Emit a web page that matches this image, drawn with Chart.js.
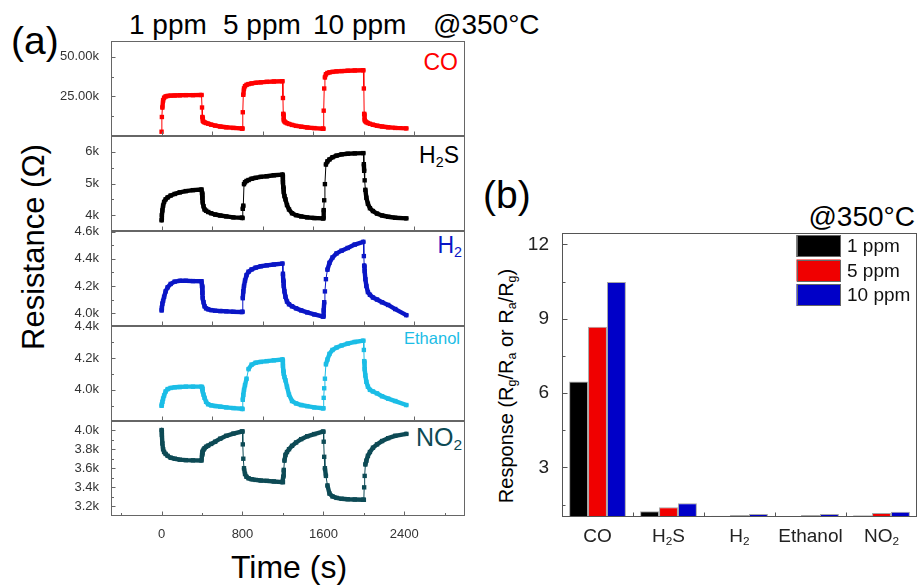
<!DOCTYPE html>
<html>
<head>
<meta charset="utf-8">
<script src="https://cdn.jsdelivr.net/npm/chart.js@4.4.1/dist/chart.umd.min.js"></script>
<style>
  html, body { margin: 0; padding: 0; background: #fff; }
  #page { position: relative; width: 921px; height: 587px; overflow: hidden;
          font-family: 'Liberation Sans', Arial, sans-serif; color: #000; }
  .box { position: absolute; }
  .txt { position: absolute; white-space: nowrap; line-height: 1; }
  .rot { transform: translate(-50%, -50%) rotate(-90deg); }
  sub { font-size: 0.62em; vertical-align: -0.28em; line-height: 0; }
</style>
</head>
<body>
<div id="page">
  <div class="txt" style="left:11px; top:20.5px; font-size:39px;">(a)</div>
  <div class="txt" style="left:129px; top:11.3px; font-size:28px;">1 ppm</div>
  <div class="txt" style="left:223px; top:11.3px; font-size:28px;">5 ppm</div>
  <div class="txt" style="left:313px; top:11.3px; font-size:28px;">10 ppm</div>
  <div class="txt" style="left:433px; top:11.3px; font-size:28px;">@350°C</div>

  <div class="txt" style="right:463px; top:51px; font-size:23px; color:#ff0000;">CO</div>
  <div class="txt" style="right:462px; top:144px; font-size:23px; color:#000;">H<sub>2</sub>S</div>
  <div class="txt" style="right:459px; top:233.5px; font-size:23px; color:#0a16c6;">H<sub>2</sub></div>
  <div class="txt" style="right:461px; top:329.5px; font-size:16.5px; color:#1bbde6;">Ethanol</div>
  <div class="txt" style="right:459px; top:424.8px; font-size:25px; color:#0d4a55;">NO<sub>2</sub></div>

  <div class="txt rot" style="left:33px; top:247px; font-size:31px;">Resistance (Ω)</div>
  <div class="txt" style="left:289px; top:551px; font-size:32px; transform:translateX(-50%);">Time (s)</div>

  <div class="txt" style="left:483px; top:175.4px; font-size:39px;">(b)</div>
  <div class="txt" style="right:6px; top:203px; font-size:28px;">@350°C</div>
  <div class="txt rot" style="left:506px; top:386px; font-size:20px;">Response (R<sub>g</sub>/R<sub>a</sub> or R<sub>a</sub>/R<sub>g</sub>)</div>
</div>

<script>
// ---- transient resistance data (time in s, resistance in kΩ) ----
const timeS = [
  0, 3, 8, 15, 25, 40, 60, 90, 130, 180, 240, 310, 395,
  400, 403, 408, 415, 425, 440, 460, 490, 530, 580, 640, 710, 795,
  800, 803, 808, 815, 825, 840, 860, 890, 930, 980, 1040, 1110, 1195,
  1200, 1203, 1208, 1215, 1225, 1240, 1260, 1290, 1330, 1380, 1440, 1510, 1595,
  1600, 1603, 1608, 1615, 1625, 1640, 1660, 1690, 1730, 1780, 1840, 1910, 1995,
  2000, 2003, 2008, 2015, 2025, 2040, 2060, 2090, 2130, 2180, 2240, 2310, 2420
];

const coK = [
  2.7, 12, 18, 22.5, 24.2, 25, 25.3, 25.5, 25.6, 25.7, 25.8, 25.8, 25.9,
  18, 12, 9.6, 9.0, 8.6, 8.2, 7.8, 7.2, 6.6, 6.0, 5.5, 5.1, 4.7,
  4.7, 15, 26, 30, 31.5, 32.3, 32.8, 33.2, 33.6, 33.9, 34.2, 34.4, 34.6,
  24, 14, 10, 9.2, 8.6, 8.1, 7.6, 7.0, 6.4, 5.9, 5.4, 5.0, 4.6,
  4.6, 16, 30, 37, 39, 39.8, 40.2, 40.5, 40.8, 41, 41.2, 41.4, 41.5,
  30, 14, 10, 9.3, 8.7, 8.2, 7.7, 7.1, 6.5, 6.0, 5.5, 5.1, 4.8
];

const h2sK = [
  3.84, 4.0, 4.15, 4.3, 4.42, 4.5, 4.56, 4.62, 4.67, 4.72, 4.76, 4.79, 4.81,
  4.7, 4.55, 4.4, 4.28, 4.18, 4.14, 4.1, 4.06, 4.02, 3.99, 3.96, 3.93, 3.92,
  3.91, 4.2, 4.3, 4.98, 5.04, 5.08, 5.11, 5.15, 5.18, 5.21, 5.23, 5.26, 5.28,
  5.04, 4.88, 4.73, 4.6, 4.5, 4.32, 4.18, 4.06, 4.0, 3.96, 3.93, 3.91, 3.9,
  3.9, 4.16, 4.47, 4.98, 5.6, 5.7, 5.76, 5.83, 5.88, 5.92, 5.94, 5.95, 5.96,
  5.61, 5.4, 5.1, 4.8, 4.55, 4.36, 4.22, 4.13, 4.05, 3.99, 3.95, 3.92, 3.9
];

const h2K = [
  4.02, 4.04, 4.07, 4.09, 4.12, 4.16, 4.19, 4.215, 4.232, 4.238, 4.238, 4.236, 4.235,
  4.2, 4.15, 4.11, 4.08, 4.05, 4.035, 4.028, 4.022, 4.018, 4.015, 4.013, 4.01, 4.008,
  4.01, 4.11, 4.16, 4.2, 4.24, 4.28, 4.305, 4.322, 4.335, 4.345, 4.352, 4.358, 4.365,
  4.29, 4.24, 4.2, 4.16, 4.12, 4.085, 4.065, 4.05, 4.035, 4.02, 4.005, 3.99, 3.975,
  3.975, 4.02, 4.08, 4.16, 4.25, 4.32, 4.37, 4.41, 4.44, 4.46, 4.48, 4.505, 4.525,
  4.42, 4.35, 4.31, 4.25, 4.2, 4.155, 4.135, 4.115, 4.1, 4.08, 4.06, 4.03, 3.985
];

const ethanolK = [
  3.9, 3.91, 3.925, 3.945, 3.965, 3.99, 4.005, 4.012, 4.016, 4.018, 4.02, 4.02, 4.02,
  4.015, 4.005, 3.99, 3.97, 3.95, 3.925, 3.91, 3.903, 3.899, 3.895, 3.89, 3.886, 3.882,
  3.88, 3.938, 3.969, 4.0, 4.03, 4.07, 4.13, 4.158, 4.17, 4.175, 4.18, 4.185, 4.19,
  4.15, 4.12, 4.1, 4.08, 4.06, 4.02, 3.97, 3.93, 3.915, 3.905, 3.898, 3.89, 3.885,
  3.885, 3.95, 4.01, 4.07, 4.16, 4.19, 4.225, 4.25, 4.265, 4.278, 4.29, 4.3, 4.308,
  4.25, 4.18, 4.13, 4.09, 4.05, 4.02, 4.0, 3.99, 3.978, 3.96, 3.945, 3.93, 3.905
];

const no2K = [
  4.0, 3.95, 3.86, 3.8, 3.77, 3.75, 3.73, 3.71, 3.7, 3.69, 3.685, 3.683, 3.682,
  3.74, 3.765, 3.78, 3.795, 3.81, 3.825, 3.837, 3.855, 3.878, 3.91, 3.94, 3.963, 3.985,
  3.985, 3.85, 3.7, 3.6, 3.54, 3.51, 3.495, 3.485, 3.478, 3.472, 3.468, 3.462, 3.455,
  3.455, 3.513, 3.583, 3.68, 3.74, 3.77, 3.8, 3.835, 3.87, 3.905, 3.935, 3.958, 3.983,
  3.983, 3.878, 3.72, 3.6, 3.52, 3.42, 3.335, 3.305, 3.29, 3.28, 3.276, 3.273, 3.27,
  3.27, 3.4, 3.52, 3.64, 3.68, 3.73, 3.77, 3.815, 3.85, 3.885, 3.915, 3.94, 3.96
];

// axis ticks of the transient panels
const timeTickLabels = [0, 800, 1600, 2400];
const timeMinorTicks = [-400, 400, 1200, 2000, 2800];
const panelTimeTicks = [0, 500, 1000, 1500, 2000, 2500];
const coTicks = [25, 50];
const h2sTicks = [4, 5, 6];
const h2Ticks = [4.0, 4.2, 4.4, 4.6];
const ethanolTicks = [4.0, 4.2, 4.4];
const no2Ticks = [3.2, 3.4, 3.6, 3.8, 4.0];

// ---- response bar data ----
const gasLabels = ['CO', 'H₂S', 'H₂', 'Ethanol', 'NO₂'];
const concLabels = ['1 ppm', '5 ppm', '10 ppm'];
const resp1ppm = [6.47, 1.23, 1.05, 1.0, 1.07];
const resp5ppm = [8.68, 1.39, 1.08, 1.08, 1.16];
const resp10ppm = [10.48, 1.55, 1.12, 1.12, 1.21];
const responseTicks = [3, 6, 9, 12];
const responseMinor = [1.5, 4.5, 7.5, 10.5];

Chart.defaults.font.family = "'Liberation Sans', Arial, sans-serif";

const page = document.getElementById('page');
function addCanvas(left, top, w, h) {
  const d = document.createElement('div');
  d.className = 'box';
  d.style.left = left + 'px'; d.style.top = top + 'px';
  d.style.width = w + 'px'; d.style.height = h + 'px';
  const c = document.createElement('canvas');
  c.width = w; c.height = h;
  c.style.width = w + 'px'; c.style.height = h + 'px';
  d.appendChild(c);
  page.appendChild(d);
  return c;
}

// frame with inward ticks around each transient panel
const panelFrame = {
  id: 'panelFrame',
  afterDraw(chart, args, o) {
    const { ctx, chartArea: a } = chart;
    const xs = chart.scales.x, ys = chart.scales.y;
    const L = Math.round(a.left) + 0.5, R = Math.round(a.right) - 0.5;
    const T = Math.round(a.top) + 0.5, B = Math.round(a.bottom) - 0.5;
    ctx.save();
    ctx.strokeStyle = o.color; ctx.lineWidth = 1;
    ctx.strokeRect(L, T, R - L, B - T);
    ctx.beginPath();
    ys.ticks.forEach(t => { const y = Math.round(ys.getPixelForValue(t.value)) + 0.5; ctx.moveTo(L, y); ctx.lineTo(L + 4, y); });
    o.yMinor.forEach(v => { const y = Math.round(ys.getPixelForValue(v)) + 0.5; ctx.moveTo(L, y); ctx.lineTo(L + 2.5, y); });
    o.xMajor.forEach(v => { const x = Math.round(xs.getPixelForValue(v)) + 0.5; ctx.moveTo(x, B); ctx.lineTo(x, B - 4); });
    o.xMinor.forEach(v => { const x = Math.round(xs.getPixelForValue(v)) + 0.5; ctx.moveTo(x, B); ctx.lineTo(x, B - 2.5); });
    ctx.stroke();
    ctx.restore();
  }
};

const PAD = 12, PANEL_H = 95;
const panels = [
  { values: coK,      color: '#ff0000', top: 41,  min: 0,     max: 60,    ticks: coTicks,      minor: [12.5, 37.5],          dec: 2 },
  { values: h2sK,     color: '#000000', top: 136, min: 3.5,   max: 6.5,   ticks: h2sTicks,     minor: [4.5, 5.5],            dec: 0 },
  { values: h2K,      color: '#0a16c6', top: 231, min: 3.905, max: 4.605, ticks: h2Ticks,      minor: [4.1, 4.3, 4.5],       dec: 1 },
  { values: ethanolK, color: '#1bbde6', top: 326, min: 3.805, max: 4.4,   ticks: ethanolTicks, minor: [3.9, 4.1, 4.3],       dec: 1 },
  { values: no2K,     color: '#0d4a55', top: 421, min: 3.1,   max: 4.095, ticks: no2Ticks,     minor: [3.3, 3.5, 3.7, 3.9],  dec: 1, bottom: true }
];

panels.forEach(p => {
  const h = p.bottom ? PANEL_H + PAD + 25 : PANEL_H + 2 * PAD;
  const cv = addCanvas(0, p.top - PAD, 470, h);
  new Chart(cv, {
    type: 'line',
    data: {
      datasets: [{
        data: timeS.map((t, i) => ({ x: t, y: p.values[i] })),
        borderColor: p.color,
        backgroundColor: p.color,
        pointBackgroundColor: p.color,
        pointBorderWidth: 0,
        pointStyle: 'rect',
        pointRadius: 3.1,
        borderWidth: 4.4,
        borderJoinStyle: 'round',
        borderCapStyle: 'round',
        segment: { borderWidth: c => Math.abs(c.p1.y - c.p0.y) > 9 ? 1 : 4.4 },
        clip: 6
      }]
    },
    options: {
      responsive: false, animation: false, events: [],
      layout: { padding: { top: PAD, bottom: p.bottom ? 0 : PAD, left: 0, right: 5 } },
      plugins: {
        legend: { display: false }, tooltip: { enabled: false },
        panelFrame: {
          color: '#666',
          yMinor: p.minor,
          xMajor: p.bottom ? timeTickLabels : panelTimeTicks,
          xMinor: p.bottom ? timeMinorTicks : []
        }
      },
      scales: {
        x: {
          type: 'linear', min: -500, max: 3000, display: !!p.bottom,
          grid: { display: false }, border: { display: false },
          afterBuildTicks: s => { s.ticks = timeTickLabels.map(v => ({ value: v })); },
          ticks: { font: { size: 13 }, color: '#333', padding: 3, maxRotation: 0, autoSkip: false,
                   callback: v => String(v) },
          afterFit: s => { s.height = p.bottom ? 25 : 0; }
        },
        y: {
          type: 'linear', min: p.min, max: p.max,
          grid: { display: false }, border: { display: false },
          afterBuildTicks: s => { s.ticks = p.ticks.map(v => ({ value: v })); },
          ticks: { font: { size: 13 }, color: '#333', padding: 4, autoSkip: false,
                   callback: v => Number(v).toFixed(p.dec) + 'k' },
          afterFit: s => { s.width = 111; }
        }
      }
    },
    plugins: [panelFrame]
  });
});

// ---- bar chart decorations: frame, inward ticks, subscript labels, legend ----
function drawSubText(ctx, text, cx, baseline, size) {
  const runs = [];
  for (const ch of text) {
    const sub = ch === '₂';
    const c = sub ? '2' : ch;
    if (runs.length && runs[runs.length - 1].sub === sub) runs[runs.length - 1].t += c;
    else runs.push({ t: c, sub });
  }
  const font = s => `${s}px 'Liberation Sans', Arial, sans-serif`;
  let w = 0;
  runs.forEach(r => { ctx.font = font(r.sub ? size * 0.62 : size); r.w = ctx.measureText(r.t).width; w += r.w; });
  let x = cx - w / 2;
  ctx.textAlign = 'left'; ctx.textBaseline = 'alphabetic';
  runs.forEach(r => {
    ctx.font = font(r.sub ? size * 0.62 : size);
    ctx.fillText(r.t, x, baseline + (r.sub ? size * 0.2 : 0));
    x += r.w;
  });
}

const barDeco = {
  id: 'barDeco',
  afterDraw(chart, args, o) {
    const { ctx, chartArea: a } = chart;
    const xs = chart.scales.x, ys = chart.scales.y;
    const L = Math.round(a.left) + 0.5, R = Math.round(a.right) - 0.5;
    const T = Math.round(a.top) + 0.5, B = Math.round(a.bottom) - 0.5;
    ctx.save();
    ctx.strokeStyle = '#555'; ctx.lineWidth = 1;
    ctx.strokeRect(L, T, R - L, B - T);
    ctx.beginPath();
    ys.ticks.forEach(t => { const y = Math.round(ys.getPixelForValue(t.value)) + 0.5; ctx.moveTo(L, y); ctx.lineTo(L + 5, y); });
    o.yMinor.forEach(v => { const y = Math.round(ys.getPixelForValue(v)) + 0.5; ctx.moveTo(L, y); ctx.lineTo(L + 3, y); });
    for (let i = 0; i < chart.data.labels.length - 1; i++) {
      const x = Math.round((xs.getPixelForValue(i) + xs.getPixelForValue(i + 1)) / 2) + 0.5;
      ctx.moveTo(x, B); ctx.lineTo(x, B - 4);
    }
    ctx.stroke();

    ctx.fillStyle = '#222';
    chart.data.labels.forEach((lab, i) => drawSubText(ctx, lab, xs.getPixelForValue(i), a.bottom + 24.5, 19));

    // legend in the upper right corner of the plot
    const lx = a.right - 120.5, ly = a.top + 2;
    chart.data.datasets.forEach((ds, i) => {
      const y = ly + i * 24.5;
      ctx.fillStyle = ds.backgroundColor;
      ctx.fillRect(lx, y, 44, 22);
      ctx.strokeStyle = '#666';
      ctx.strokeRect(Math.round(lx) + 0.5, Math.round(y) + 0.5, 43, 21);
      ctx.fillStyle = '#111';
      ctx.font = "19px 'Liberation Sans', Arial, sans-serif";
      ctx.textAlign = 'left'; ctx.textBaseline = 'alphabetic';
      ctx.fillText(ds.label, lx + 50.5, y + 17);
    });
    ctx.restore();
  }
};

const cb = addCanvas(470, 0, 451, 587);
new Chart(cb, {
  type: 'bar',
  data: {
    labels: gasLabels,
    datasets: [
      { label: concLabels[0], data: resp1ppm, backgroundColor: '#000000' },
      { label: concLabels[1], data: resp5ppm, backgroundColor: '#f00000' },
      { label: concLabels[2], data: resp10ppm, backgroundColor: '#0000c8' }
    ]
  },
  options: {
    responsive: false, animation: false, events: [],
    datasets: { bar: {
      categoryPercentage: 0.8, barPercentage: 1.0,
      borderWidth: c => (c.raw > 1.005 ? 1 : 0),
      borderColor: 'rgba(0,0,0,0.35)', borderSkipped: 'bottom'
    } },
    layout: { padding: { top: 233, right: 4, left: 0, bottom: 0 } },
    plugins: { legend: { display: false }, tooltip: { enabled: false }, barDeco: { yMinor: responseMinor } },
    scales: {
      x: { grid: { display: false }, border: { display: false }, ticks: { display: false },
           afterFit: s => { s.height = 70; } },
      y: { min: 1, max: 12.46, grid: { display: false }, border: { display: false },
           afterBuildTicks: s => { s.ticks = responseTicks.map(v => ({ value: v })); },
           ticks: { font: { size: 19 }, color: '#222', padding: 5 },
           afterFit: s => { s.width = 92; } }
    }
  },
  plugins: [barDeco]
});
</script>
</body>
</html>
